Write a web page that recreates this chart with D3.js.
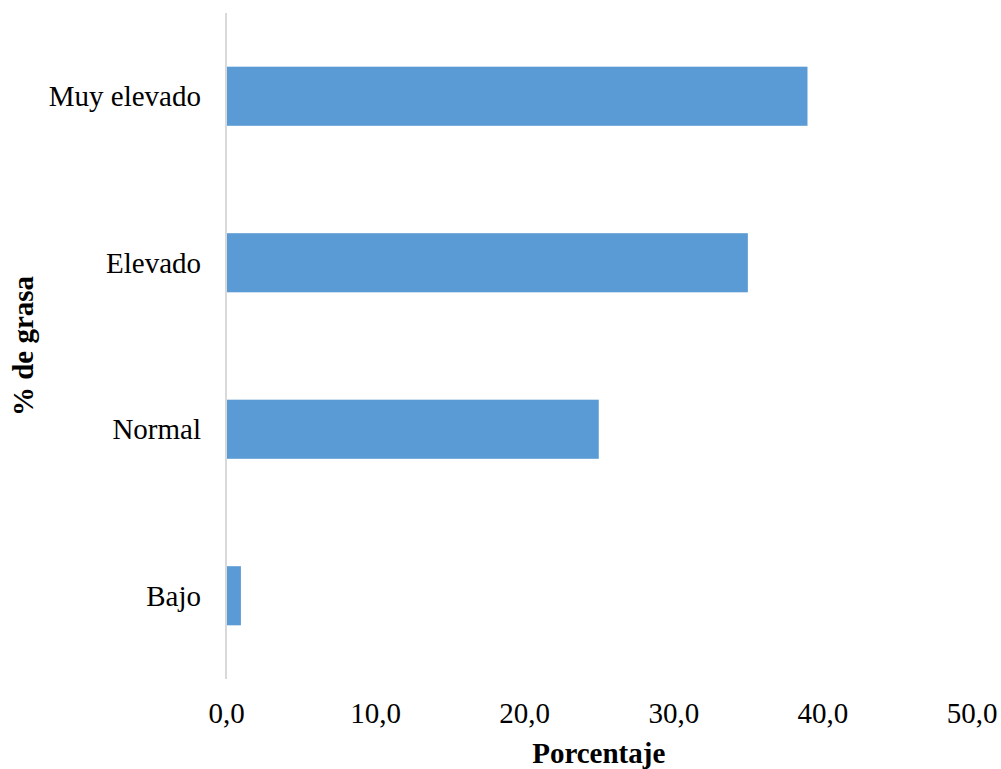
<!DOCTYPE html>
<html>
<head>
<meta charset="utf-8">
<script src="https://cdn.jsdelivr.net/npm/d3@7"></script>
<style>
  html, body { margin: 0; padding: 0; background: #fff; }
  svg { display: block; }
  text { font-family: "Liberation Serif", "Times New Roman", serif; fill: #000; }
</style>
</head>
<body>
<svg id="chart" width="1001" height="769"></svg>
<script>
// Body-fat categories (top to bottom) and their share in percent
const categories = ["Muy elevado", "Elevado", "Normal", "Bajo"];
const values = [39.0, 35.0, 25.0, 1.0];
const xTicks = [0, 10, 20, 30, 40, 50];

const svg = d3.select("#chart");
const fontSize = 29;

const x = d3.scaleLinear().domain([0, 50]).range([226, 971.5]);
const y = d3.scaleBand()
  .domain(categories)
  .range([13, 679])
  .paddingInner(0.645)
  .paddingOuter(0.3225);

const fmt = v => d3.format(".1f")(v).replace(".", ",");

// Bars
svg.append("g")
  .selectAll("rect")
  .data(categories.map((c, i) => ({ c, v: values[i] })))
  .join("rect")
  .attr("x", x(0))
  .attr("y", d => y(d.c))
  .attr("width", d => x(d.v) - x(0))
  .attr("height", y.bandwidth())
  .attr("fill", "#5b9bd5");

// Vertical category axis line
svg.append("line")
  .attr("x1", x(0)).attr("x2", x(0))
  .attr("y1", 13).attr("y2", 679)
  .attr("stroke", "#d9d9d9")
  .attr("stroke-width", 2);

// Category labels
const yAxis = d3.axisLeft(y).tickSize(0).tickPadding(25);
const gy = svg.append("g").attr("transform", `translate(${x(0)},0)`).call(yAxis);
gy.select(".domain").remove();
gy.selectAll("text")
  .attr("font-size", fontSize)
  .attr("font-family", "Liberation Serif, serif")
  .attr("fill", "#000")
  .attr("dy", "0.35em");

// Value axis labels (no line, no ticks)
const xAxis = d3.axisBottom(x).tickValues(xTicks).tickFormat(fmt).tickSize(0).tickPadding(0);
const gx = svg.append("g").attr("transform", "translate(0,723)").call(xAxis);
gx.select(".domain").remove();
gx.selectAll("text")
  .attr("font-size", fontSize)
  .attr("font-family", "Liberation Serif, serif")
  .attr("fill", "#000")
  .attr("dy", 0)
  .attr("y", 0);

// Axis titles
svg.append("text")
  .attr("x", (x(0) + x(50)) / 2)
  .attr("y", 763)
  .attr("text-anchor", "middle")
  .attr("font-size", fontSize)
  .attr("font-weight", "bold")
  .text("Porcentaje");

svg.append("text")
  .attr("transform", `translate(33,${(13 + 679) / 2}) rotate(-90)`)
  .attr("text-anchor", "middle")
  .attr("font-size", fontSize)
  .attr("font-weight", "bold")
  .text("% de grasa");
</script>
</body>
</html>
